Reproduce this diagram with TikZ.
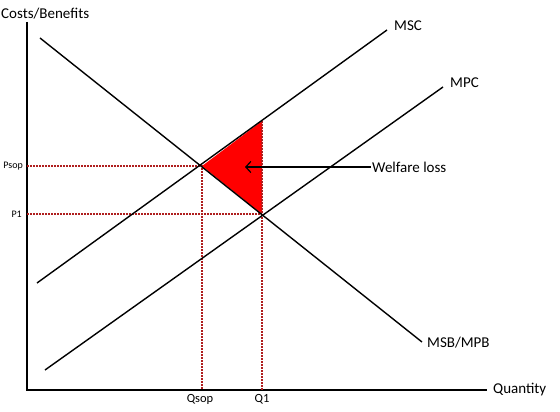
\documentclass[tikz,border=0pt]{standalone}
\usepackage{fontspec}
\setmainfont{Carlito}
\usetikzlibrary{positioning,arrows.meta}
\definecolor{dotred}{RGB}{175,30,30}
\tikzset{
  curve/.style = {line width=1.4pt, black},
  axisline/.style = {line width=1.6pt, black},
  guide/.style = {dotred, line width=1.5pt, dash pattern=on 1.5pt off 1.5pt},
  lbl/.style = {font=\fontsize{15}{17}\selectfont, inner sep=1pt},
  tick/.style = {font=\fontsize{10}{12}\selectfont, inner sep=1pt},
  qtick/.style = {font=\fontsize{12.5}{14}\selectfont, inner sep=1pt}
}
\begin{document}
\begin{tikzpicture}[x=1pt, y=-1pt]
  \useasboundingbox (0,0) rectangle (560,412);
  %%+++++++++++++++++++++++++
  % Variables
  % Origin of the axes
  \pgfmathsetmacro{\xo}{27}
  \pgfmathsetmacro{\yo}{390}
  % Quantities
  \pgfmathsetmacro{\Qsop}{202}
  \pgfmathsetmacro{\Qone}{262}
  % Prices
  \pgfmathsetmacro{\Psop}{166}
  \pgfmathsetmacro{\Pone}{214}
  \pgfmathsetmacro{\Ptop}{121}
  %%+++++++++++++++++++++++++
  % Axes
  \coordinate (O) at (\xo,\yo);
  \coordinate (ytop) at (\xo,22);
  \coordinate (xend) at (487,\yo);
  \draw[axisline] (ytop) -- (O) -- (xend);
  \node[lbl, anchor=south west] (ylab) at (0,20) {Costs/Benefits};
  \node[lbl, right=5pt of xend] (xlab) {Quantity};
  % Equilibrium points
  \coordinate (Esop) at (\Qsop,\Psop);
  \coordinate (Eone) at (\Qone,\Pone);
  \coordinate (Etop) at (\Qone,\Ptop);
  % Welfare loss
  \fill[red] (Esop) -- (Etop) -- (Eone) -- cycle;
  % Dotted guides
  \coordinate (Psopax) at (\xo,\Psop);
  \coordinate (Poneax) at (\xo,\Pone);
  \coordinate (Qsopax) at (\Qsop,\yo);
  \coordinate (Qoneax) at (\Qone,\yo);
  \draw[guide] (Psopax) -- (Esop) -- (Qsopax);
  \draw[guide] (Poneax) -- (Eone);
  \draw[guide] (Etop) -- (Qoneax);
  \node[tick, anchor=east] (psoplab) at (24,\Psop) {Psop};
  \node[tick, anchor=east] (ponelab) at (23,\Pone) {P1};
  \node[qtick, anchor=north] (qsoplab) at (\Qsop-2,393) {Qsop};
  \node[qtick, anchor=north] (qonelab) at (\Qone,393) {Q1};
  % Curves
  \coordinate (msb0) at (40,38);
  \coordinate (msb1) at (422,342);
  \draw[curve] (msb0) -- (msb1);
  \node[lbl, anchor=west] (msblab) at (426,343) {MSB/MPB};
  \coordinate (msc0) at (37,283);
  \coordinate (msc1) at (387,30);
  \draw[curve] (msc0) -- (msc1);
  \node[lbl, anchor=west] (msclab) at (393,26) {MSC};
  \coordinate (mpc0) at (45,370);
  \coordinate (mpc1) at (443,87);
  \draw[curve] (mpc0) -- (mpc1);
  \node[lbl, anchor=west] (mpclab) at (449,83) {MPC};
  % Welfare loss label
  \node[lbl, anchor=west] (wlab) at (371,167) {Welfare loss};
  \coordinate (wtip) at (245,167);
  \draw[curve, -{Straight Barb[length=5pt,width=11pt]}, line width=1.2pt] (wlab.west) -- (wtip);
\end{tikzpicture}
\end{document}
